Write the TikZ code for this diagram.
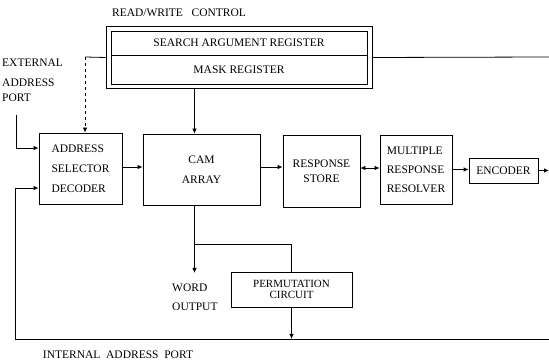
\documentclass[tikz,border=0pt]{standalone}
\usepackage{fontspec}
\setmainfont{Liberation Serif}
\usetikzlibrary{arrows.meta,fit,calc}
\tikzset{
	blk/.style={draw,line width=0.8pt,inner sep=0pt},
	lbl/.style={font=\fontsize{11.5}{20}\selectfont,inner sep=0pt},
	con/.style={line width=0.8pt},
	arr/.style={con,-{Latex[length=5pt,width=4.5pt]}}
}
\begin{document}
\begin{tikzpicture}[x=1pt,y=-1pt]
	\useasboundingbox (0,0) rectangle (549,363);
	% registers
	\node[blk,lbl,minimum width=256,minimum height=24] (sar) at (239,43) {SEARCH ARGUMENT REGISTER};
	\node[blk,lbl,minimum width=256,minimum height=29] (mask) at (239,69.5) {MASK REGISTER};
    \node[draw,line width=0.8pt,fit=(sar)(mask),inner sep=4.5pt] (reg) {};
	\node[lbl] (rwc) at (179,13) {READ/WRITE\ \ \ CONTROL};
	% blocks
	\node[blk,lbl,align=left,minimum width=83,minimum height=71] (asd) at (80.5,168.5) {ADDRESS\\SELECTOR\\DECODER};
	\node[blk,lbl,align=center,minimum width=117,minimum height=71] (cam) at (201.5,169.5) {CAM\\ARRAY};
	\node[blk,lbl,align=center,minimum width=77,minimum height=72,font=\fontsize{11.5}{15}\selectfont] (rs) at (321.5,171) {RESPONSE\\STORE};
	\node[blk,lbl,align=left,minimum width=72,minimum height=69,font=\fontsize{11.5}{19}\selectfont] (mrr) at (416,169.5) {MULTIPLE\\RESPONSE\\RESOLVER};
	\node[blk,lbl,minimum width=69,minimum height=25] (enc) at (503.5,170.5) {ENCODER};
	\node[blk,lbl,align=center,minimum width=121,minimum height=35,font=\fontsize{11}{11}\selectfont] (perm) at (291.5,289.5) {PERMUTATION\\CIRCUIT};
	% texts
	\node[lbl,align=left,anchor=west,font=\fontsize{11.5}{15}\selectfont] (ext) at (2,80) {EXTERNAL\\[5pt]ADDRESS\\PORT};
	\node[lbl,align=left,anchor=west,font=\fontsize{11.5}{19}\selectfont] (word) at (172,297.5) {WORD\\OUTPUT};
	\node[lbl] (iap) at (118,355) {INTERNAL\ \ ADDRESS\ \ PORT};
	% free ends
	\coordinate (extin) at (16,115);
	\coordinate (rwl) at (85,57);
	\coordinate (rwr) at (549,57);
	\coordinate (camout) at (194.5,205);
	\coordinate (wordtip) at (194.5,273);
	\coordinate (fork) at (194.5,244);
	\coordinate (bl) at (15,339);
	\coordinate (br) at (549,339);
	\coordinate (encout) at (549,170.5);
	% connectors
	\draw[con] (reg.west) -- (rwl);
	\draw[arr,dashed] (rwl) -- (rwl |- asd.north);
	\draw[con] (reg.east) -- (rwr);
	\draw[arr] (camout |- reg.south) -- (camout |- cam.north);
	\draw[arr] (extin) |- ([yshift=20.5pt]asd.west);
	\draw[arr] (br) -- (bl) |- ([yshift=-19.5pt]asd.west);
	\draw[arr] ([yshift=1.5pt]asd.east) -- ([yshift=1.5pt]asd.east -| cam.west);
	\draw[arr] ([yshift=2.5pt]cam.east) -- ([yshift=2.5pt]cam.east -| rs.west);
	\draw[con,{Latex[length=5pt,width=4.5pt]}-{Latex[length=5pt,width=4.5pt]}] ([yshift=3pt]rs.east) -- ([yshift=3pt]rs.east -| mrr.west);
	\draw[arr] (mrr.east) -- (mrr.east -| enc.west);
	\draw[arr] (enc.east) -- (encout);
	\draw[arr] (camout) -- (wordtip);
	\draw[con] (fork) -| (perm.north);
	\draw[arr] (perm.south) -- (perm.south |- bl);
\end{tikzpicture}
\end{document}
